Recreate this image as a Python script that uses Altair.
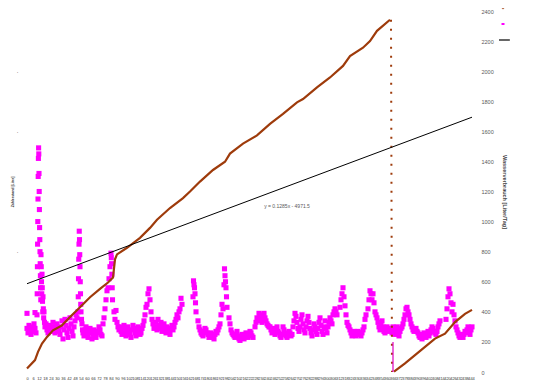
import altair as alt
import pandas as pd

# ---------------- data ----------------
# cumulative meter reading (brown), x = day index
brown_day = [0, 8, 11, 15, 20, 26, 35, 43, 53, 63, 73, 81, 86, 88, 90, 100, 113, 123,
             130, 143, 156, 163, 173, 186, 198, 203, 216, 230, 243, 256, 270, 276,
             290, 303, 316, 323, 336, 343, 350, 363]
brown_val = [24, 79, 134, 189, 233, 277, 310, 365, 431, 497, 552, 595, 628, 749, 782, 826, 892, 958,
             1012, 1090, 1156, 1200, 1266, 1343, 1398, 1452, 1518, 1573, 1650, 1716, 1793, 1815,
             1892, 1958, 2035, 2100, 2156, 2200, 2268, 2342]
# after meter reset
brown2_day = [367, 378, 388, 398, 408, 418, 428, 438, 445]
brown2_val = [2, 57, 112, 167, 222, 255, 332, 387, 413]
# reset drop (dotted)
drop_day = [364, 365]
drop_val = [2342, 0]

# daily consumption (magenta) segments: (start day, step, values)
mag_segments = [
    (0, 1, [290, 260, 310, 280, 250, 300, 270, 320, 290, 260]),
    (0, 8, [390, 395]),
    (10, 0.2, [380, 520, 700, 850, 1000]),
    (11, 0.2, [1150, 1300, 1420, 1490, 1450]),
    (12, 0.2, [1320, 1200, 1080, 960, 880]),
    (13, 0.2, [800, 720, 640, 560, 480]),
    (14, 0.25, [780, 700, 600, 520]),
    (15, 0.25, [650, 560, 470, 400]),
    (16, 0.34, [500, 420, 360]),
    (17, 0.5, [400, 330]),
    (18, 1, [300, 320, 280, 260, 310, 290, 270, 300, 330, 280, 260, 300, 320, 290, 270]),
    (33, 1, [250, 300, 340, 220, 280, 350, 310, 260, 230, 290, 360, 320, 270, 240, 300, 340, 380, 360]),
    (51, 0.25, [400, 500, 620, 750]),
    (52, 0.25, [850, 936, 880, 780]),
    (53, 0.25, [700, 600, 520, 450]),
    (54, 0.5, [400, 350, 320, 280]),
    (56, 1, [260, 240, 280, 300, 250, 230, 270, 290, 260, 220, 250, 280, 240, 230, 270, 260, 300, 280, 250, 240]),
    (76, 1, [320, 360, 420, 480, 540, 560, 620, 700]),
    (84, 0.3, [790, 760, 720, 650, 560, 480]),
    (87, 1, [400, 350, 409, 330, 300, 280]),
    (93, 1, [300, 270, 250, 290, 310, 260, 240, 280, 300, 270, 250, 230, 280, 310, 290, 260, 240, 270,
             300, 280, 250, 260, 290, 310, 340, 380, 430]),
    (120, 1, [450, 520, 553, 480, 400, 350, 320, 290]),
    (128, 1, [300, 330, 280, 350, 310, 290, 330, 270, 300, 320, 280, 260, 300, 290, 270, 250, 290, 310,
              280, 300, 330, 350, 380, 360, 400, 420, 490, 450]),
    (166, 0.5, [500, 606, 580, 560, 520, 460, 400]),
    (171, 1, [340, 300, 280, 260, 250, 240, 270, 290, 280, 260, 250, 230, 240, 260, 250, 230, 220, 250,
              270, 260, 280, 300, 320, 380, 450, 420]),
    (197, 0.5, [580, 686, 640, 600, 560, 500, 430]),
    (202, 1, [360, 320, 280, 260, 250, 240, 230, 250, 270, 240, 220, 210, 230, 250, 240, 220, 250, 260,
              240, 230, 250, 270, 260, 240, 230]),
    (228, 1, [300, 330, 360, 340, 390, 380, 350, 330, 370, 390, 360, 340, 320, 310, 300]),
    (243, 1, [300, 280, 260, 290, 270, 250, 280, 300, 270, 260, 240, 230, 250, 300, 280, 260, 240, 230,
              250, 270, 260, 240, 250]),
    (266, 1, [300, 340, 390, 370, 330, 290, 270, 300, 350, 380, 320, 280, 260, 300, 340, 370, 330]),
    (283, 1, [290, 260, 240, 280, 320, 300, 270, 250, 290, 330, 360, 310, 270, 250, 300, 340, 290, 260,
              300, 330, 360, 340, 320, 380, 400, 420, 400, 380]),
    (313, 1, [430, 480, 520, 560, 500, 440, 380, 330, 310, 300]),
    (323, 1, [280, 260, 240, 250, 270, 260, 240, 250, 270, 260, 250, 240, 260, 280, 300, 350, 380]),
    (341, 1, [420, 480, 540, 520, 480, 520, 460, 400, 380, 360]),
    (351, 1, [330, 300, 280, 320, 340, 300, 270, 260, 290, 300, 280, 270]),
    (363, 1, [290, 280, 260, 300, 270, 250, 280, 300, 260, 240, 270, 290, 300, 320, 350, 380, 420]),
    (380, 1, [430, 400, 380, 350, 320, 300, 280, 270, 280, 290, 270]),
    (391, 1, [260, 240, 230, 250, 220, 240, 260, 250, 230, 250, 270, 240, 260, 280, 300, 290, 270, 260,
              250, 270, 300, 320, 340]),
    (419, 1, [350, 420, 500, 553, 520, 460, 400, 450, 380, 340, 300]),
    (430, 1, [280, 260, 240, 230, 250, 240, 230, 250, 270, 260, 280, 300, 270, 250, 280, 300]),
]
mag_drop_day = [366, 366]
mag_drop_val = [200, 0]

trend_day = [0, 445]
trend_val = [587, 1694]
trend_label = "y = 0.1285x - 4971.5"
trend_label_pos = (260, 1101)

right_title = "Wasserverbrauch [Liter/Tag]"
left_title = "Zählerstand [Liter]"
y_ticks_right = [0, 200, 400, 600, 800, 1000, 1200, 1400, 1600, 1800, 2000, 2200, 2400]
y_ticks_left = [800, 1600, 2000]
x_ticks = list(range(0, 446, 6))

BROWN = "#9E3B0B"
MAGENTA = "#FF00FF"
FONT = "Liberation Sans"

# ---------------- tables ----------------
brown_df = pd.DataFrame({"day": brown_day, "val": brown_val})
brown2_df = pd.DataFrame({"day": brown2_day, "val": brown2_val})
drop_df = pd.DataFrame({"day": drop_day, "val": drop_val})
rows = []
for start, step, vals in mag_segments:
    for i, v in enumerate(vals):
        rows.append({"day": start + i * step, "val": v})
mag_df = pd.DataFrame(rows)
mag_drop_df = pd.DataFrame({"day": mag_drop_day, "val": mag_drop_val})
trend_df = pd.DataFrame({"day": trend_day, "val": trend_val})
label_df = pd.DataFrame({"day": [trend_label_pos[0]], "val": [trend_label_pos[1]], "t": [trend_label]})

xscale = alt.Scale(domain=[0, 445], nice=False, zero=False)
yscale = alt.Scale(domain=[0, 2400], nice=False)

x_axis = alt.Axis(
    orient="bottom", values=x_ticks, labelFontSize=4, labelColor="#333333", labelPadding=4,
    ticks=False, domain=False, grid=False, title=None, labelFont=FONT,
    labelOverlap=False, labelFlush=False, format="d")


def x_enc():
    return alt.X("day:Q", scale=xscale, axis=x_axis)


def y_none():
    return alt.Y("val:Q", scale=yscale, axis=None)


right_axis = alt.Axis(orient="right", values=y_ticks_right, labelFontSize=5.5, format="d",
                      labelColor="#595959", labelPadding=9, ticks=False, domain=False,
                      grid=False, title=right_title, titleFontSize=5.5, titleColor="#404040",
                      titleFontWeight="bold", titlePadding=8, labelFont=FONT, titleFont=FONT)
left_axis = alt.Axis(orient="left", values=y_ticks_left, labelFontSize=5, labelColor="#000000",
                     labelExpr="'·'", labelPadding=9, ticks=False, domain=False, grid=False,
                     title=left_title, titleFontSize=3.5, titleColor="#333333", titlePadding=2,
                     labelFont=FONT, titleFont=FONT)

mag_pts = alt.Chart(mag_df).mark_square(color=MAGENTA, size=26, opacity=1).encode(
    x=x_enc(), y=alt.Y("val:Q", scale=yscale, axis=left_axis))
brown_line = alt.Chart(brown_df).mark_line(color=BROWN, strokeWidth=2.2).encode(
    x=x_enc(), y=alt.Y("val:Q", scale=yscale, axis=right_axis))
brown2_line = alt.Chart(brown2_df).mark_line(color=BROWN, strokeWidth=2.2).encode(
    x=x_enc(), y=y_none())
drop_line = alt.Chart(drop_df).mark_line(color=BROWN, strokeWidth=2, strokeDash=[2, 7]).encode(
    x=x_enc(), y=y_none())
mag_drop = alt.Chart(mag_drop_df).mark_line(color="#E000C0", strokeWidth=1.2).encode(
    x=x_enc(), y=y_none())
trend = alt.Chart(trend_df).mark_line(color="#000000", strokeWidth=1).encode(
    x=x_enc(), y=y_none())
label = alt.Chart(label_df).mark_text(fontSize=5, color="#595959", font=FONT).encode(
    x=x_enc(), y=y_none(), text="t:N")

# legend glyphs (no labels, as in the reference)
leg_df = pd.DataFrame({"k": ["a"]})
leg1 = alt.Chart(leg_df).mark_square(color=BROWN, size=5).encode(
    x=alt.value(476), y=alt.value(-3))
leg2 = alt.Chart(leg_df).mark_rect(color=MAGENTA).encode(
    x=alt.value(474.5), x2=alt.value(477.5), y=alt.value(12), y2=alt.value(14))
leg3 = alt.Chart(leg_df).mark_rule(color="#000000", strokeWidth=1.2).encode(
    x=alt.value(472), x2=alt.value(483), y=alt.value(29))

chart = alt.layer(
    mag_pts, brown_line, brown2_line, drop_line, mag_drop, trend, label, leg1, leg2, leg3
).resolve_scale(y="independent").properties(
    width=445, height=361,
    autosize=alt.AutoSizeParams(type="none"),
    padding={"left": 19, "top": 3, "right": 76, "bottom": 10},
    background="white",
).configure_view(stroke=None)

chart.save("out.html", embed_options={"renderer": "svg", "actions": False})
